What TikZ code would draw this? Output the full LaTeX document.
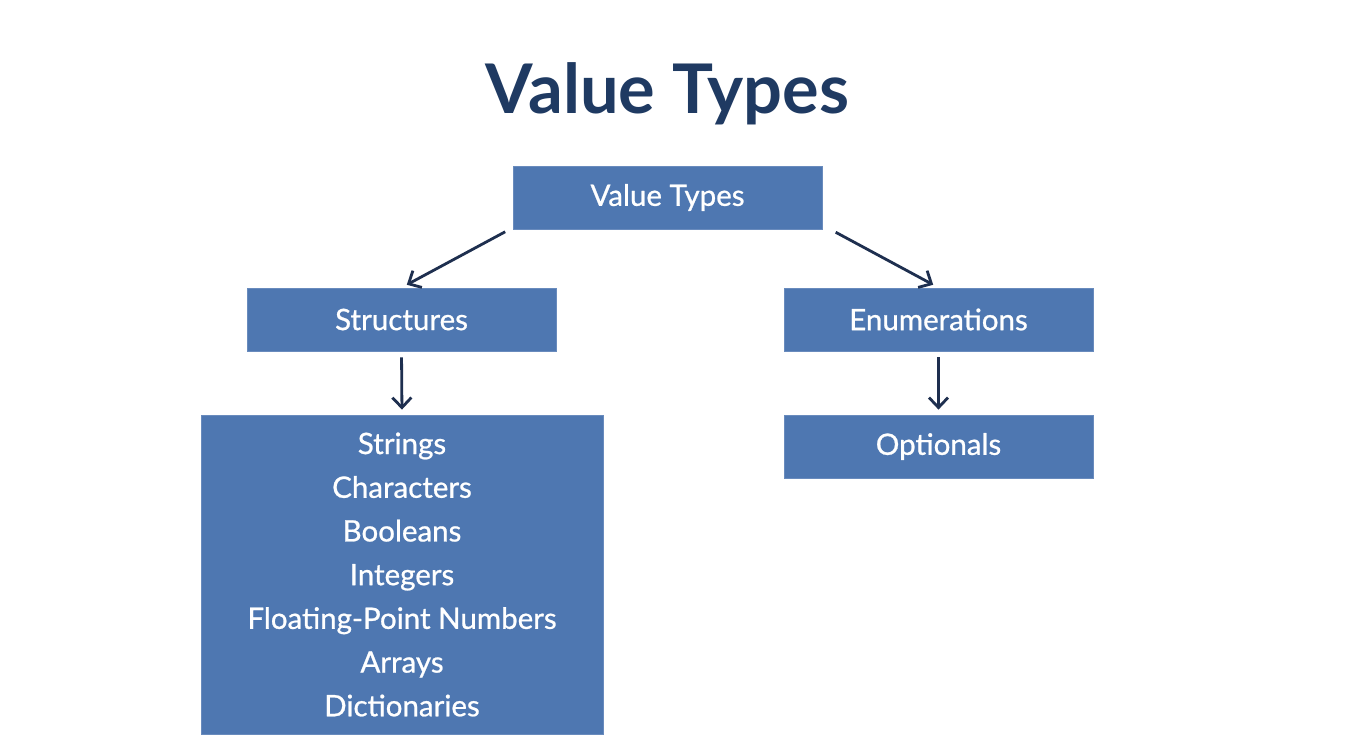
\documentclass[tikz,border=0pt]{standalone}
\usepackage{fontspec}
\setmainfont{Lato}
\newfontfamily\boxfont[FakeBold=0.8]{Lato}
\usetikzlibrary{arrows.meta}
\definecolor{boxblue}{HTML}{4E77B1}
\definecolor{navy}{HTML}{1F3A62}
\definecolor{arrowc}{HTML}{1E2F4F}
\begin{document}
\begin{tikzpicture}[x=1pt,y=-1pt,
  tbox/.style={draw=boxblue!85!white,line width=0.8pt,fill=boxblue,text=white,inner sep=0pt,
    minimum width=309pt,minimum height=63pt,font=\boxfont\fontsize{29.5}{30}\selectfont},
  conn/.style={draw=arrowc,line width=2.8pt,-{Straight Barb[length=10pt,width=19pt,line width=2.8pt]}}]
\useasboundingbox[fill=white] (0,0) rectangle (1350,750);
\node[text=navy,font=\fontsize{68.5}{74}\selectfont\bfseries] (title) at (667.5,94) {Value Types};
\node[tbox] (vt) at (667.5,197.5) {\raisebox{-2pt}{Value Types}};
\node[tbox] (st) at (401.5,319.5) {\raisebox{-2pt}{Structures}};
\node[tbox] (en) at (938.5,319.5) {\raisebox{-2pt}{Enumerations}};
\node[tbox,minimum width=402pt,minimum height=319pt,align=center,font=\boxfont\fontsize{29.5}{43.7}\selectfont] (lst) at (402,574.5)
  {Strings\\Characters\\Booleans\\Integers\\Floating-Point Numbers\\Arrays\\Dictionaries};
\node[tbox] (op) at (938.5,446.5) {\raisebox{-2pt}{Optionals}};
\draw[conn,shorten <=5pt,shorten >=6pt] ([xshift=-3pt]vt.south west) -- (st.north);
\draw[conn,shorten <=6pt,shorten >=6pt] ([xshift=8pt]vt.south east) -- (en.north);
\draw[conn,shorten <=6pt,shorten >=5pt] (st.south) -- (lst.north);
\draw[conn,shorten <=6pt,shorten >=5pt] (en.south) -- (op.north);
\end{tikzpicture}
\end{document}
